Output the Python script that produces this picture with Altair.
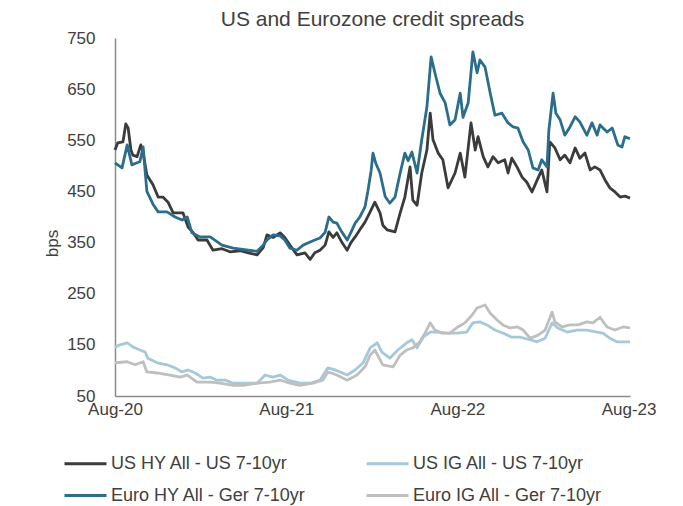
import altair as alt
import pandas as pd

START = "2020-08-01"
SERIES = [
    "US HY All - US 7-10yr",
    "US IG All - US 7-10yr",
    "Euro HY All - Ger 7-10yr",
    "Euro IG All - Ger 7-10yr",
]
COLORS = ["#3b3b3b", "#a5c9da", "#2b6e8c", "#bfbfbf"]
Y_TICKS = [50, 150, 250, 350, 450, 550, 650, 750]
X_TICKS = ["2020-08-01", "2021-08-01", "2022-08-01", "2023-08-01"]

# (days since 1 Aug 2020, bps)
US_HY = [(0,531),(6,545),(17,547),(23,582),(28,574),(34,531),(38,521),(47,518),(55,541),(60,525),
         (68,482),(81,463),(92,439),(102,439),(113,429),(124,408),(145,408),(156,380),(166,370),(177,355),
         (196,355),(209,335),(228,338),(245,332),(267,334),(284,330),(303,326),(316,340),(324,365),(337,360),
         (352,369),(362,360),(373,345),(388,326),(405,330),(416,317),(426,330),(437,335),(448,345),(456,371),
         (465,360),(473,369),(484,350),(495,335),(503,350),(512,361),(522,375),(533,390),(544,410),(554,429),
         (565,408),(571,384),(580,375),(597,371),(608,408),(618,439),(629,498),(635,433),(644,423),(654,486),
         (665,531),(672,603),(678,551),(689,525),(699,512),(710,457),(725,486),(736,525),(746,478),(759,584),
         (768,531),(774,557),(785,518),(795,498),(806,518),(817,506),(831,512),(838,486),(846,515),(857,498),
         (868,478),(878,468),(889,449),(900,472),(910,492),(921,449),(927,547),(938,535),(949,512),(959,521),
         (970,506),(981,535),(991,515),(1002,525),(1013,492),(1023,498),(1034,492),(1045,472),(1055,457),
         (1066,449),(1077,439),(1087,441),(1098,437)]

EURO_HY = [(0,506),(9,500),(15,496),(26,541),(36,502),(47,506),(53,508),(60,537),(64,492),(68,450),
           (81,425),(92,410),(111,410),(128,400),(143,394),(154,400),(164,369),(181,361),(203,361),(228,345),
           (252,339),(284,335),(303,333),(316,345),(324,355),(337,365),(352,363),(362,355),(373,339),(388,335),
           (401,345),(416,351),(426,355),(437,359),(448,370),(456,400),(465,390),(473,388),(484,370),(495,355),
           (503,370),(512,388),(522,400),(533,420),(539,450),(546,490),(550,525),(556,505),(565,486),(576,440),
           (586,427),(597,439),(608,486),(618,525),(625,510),(633,527),(644,486),(654,551),(665,615),(674,713),
           (682,682),(693,642),(704,623),(714,580),(725,590),(736,642),(742,595),(753,623),(763,723),(772,682),
           (778,707),(789,693),(800,642),(810,599),(825,603),(838,584),(849,576),(859,574),(870,547),(881,531),
           (891,496),(902,492),(910,512),(921,498),(925,570),(934,642),(940,603),(949,590),(959,560),(970,576),
           (981,596),(991,586),(1006,560),(1017,584),(1028,560),(1034,580),(1049,566),(1060,574),(1072,541),
           (1081,537),(1087,557),(1098,553)]

US_IG = [(0,146),(11,150),(26,154),(38,146),(53,140),(64,136),(70,124),(90,115),(111,111),(128,105),
         (143,97),(156,101),(171,95),(188,85),(203,87),(217,81),(235,81),(252,75),(273,75),(303,75),
         (320,91),(337,87),(352,91),(369,81),(394,75),(416,75),(437,81),(454,105),(469,101),(480,97),
         (495,91),(512,101),(529,115),(544,144),(559,154),(569,136),(586,124),(603,140),(622,154),(633,160),
         (644,144),(657,165),(672,175),(687,175),(708,173),(729,173),(750,175),(763,193),(778,195),(793,189),
         (810,179),(827,173),(846,165),(863,165),(885,160),(900,156),(917,163),(932,193),(944,183),(964,175),
         (985,179),(1006,179),(1028,175),(1040,173),(1055,163),(1070,156),(1083,156),(1098,156)]

EURO_IG = [(0,115),(26,117),(43,111),(60,117),(68,97),(90,95),(117,91),(139,87),(154,91),(175,77),
           (203,77),(224,75),(252,71),(273,71),(303,75),(330,77),(352,81),(373,75),(394,71),(422,75),
           (443,81),(454,97),(473,91),(495,81),(516,91),(533,107),(544,130),(554,140),(571,111),(593,107),
           (608,130),(622,140),(635,144),(650,156),(661,173),(672,193),(682,179),(697,173),(714,173),(731,185),
           (746,193),(761,208),(772,222),(789,228),(800,212),(814,199),(827,189),(842,183),(859,185),(870,179),
           (885,163),(902,169),(917,179),(932,214),(938,195),(953,185),(970,189),(987,189),(1006,195),(1019,193),
           (1034,204),(1049,185),(1066,179),(1083,185),(1098,183)]

rows = []
for name, pts in zip(SERIES, [US_HY, US_IG, EURO_HY, EURO_IG]):
    for d, v in pts:
        rows.append({"series": name,
                     "date": (pd.Timestamp(START) + pd.Timedelta(days=d)).strftime("%Y-%m-%dT00:00:00"),
                     "bps": v})
df = pd.DataFrame(rows)

FONT = "Liberation Sans"
TXT = "#404040"

chart = alt.Chart(df).mark_line(strokeWidth=2.8, strokeJoin="round").encode(
    x=alt.X("date:T",
            scale=alt.Scale(domain=[alt.DateTime(year=2020, month=8, date=1),
                                    alt.DateTime(year=2023, month=8, date=4)]),
            axis=alt.Axis(title=None, format="%b-%y", labelFlush=False, labelOverlap=False,
                          values=[alt.DateTime(year=int(s[:4]), month=8, date=1) for s in X_TICKS],
                          labelPadding=5)),
    y=alt.Y("bps:Q", scale=alt.Scale(domain=[50, 750], nice=False, zero=False),
            axis=alt.Axis(values=Y_TICKS, title="bps", labelPadding=20,
                          titleX=-63, titleY=205, titleAngle=-90, titleAlign="center",
                          titleBaseline="middle", titleFontWeight="normal")),
    color=alt.Color("series:N", sort=SERIES,
                    scale=alt.Scale(domain=SERIES, range=COLORS),
                    legend=alt.Legend(title=None, orient="none", legendX=-52, legendY=403,
                                      direction="horizontal", columns=2,
                                      symbolType="stroke", symbolSize=1764,
                                      symbolStrokeWidth=3, labelFontSize=18, labelFont=FONT,
                                      labelColor=TXT, labelLimit=400, columnPadding=53,
                                      rowPadding=-8, labelOffset=3, padding=0)),
    order=alt.Order("date:T"),
).properties(
    width=515, height=358,
    title=alt.TitleParams("US and Eurozone credit spreads", fontSize=21, font=FONT,
                          fontWeight="normal", color=TXT, anchor="middle", offset=-1),
    autosize=alt.AutoSizeParams(type="none"),
    padding={"left": 107, "top": 30, "right": 45, "bottom": 120},
).configure_axis(
    grid=False, ticks=False, domainColor="#8c8c8c", domainWidth=1.5,
    labelFont=FONT, labelFontSize=17, labelColor=TXT,
    titleFont=FONT, titleFontSize=17, titleColor=TXT,
).configure_view(stroke=None)

chart.save("out.html", embed_options={"renderer": "svg", "actions": False})
